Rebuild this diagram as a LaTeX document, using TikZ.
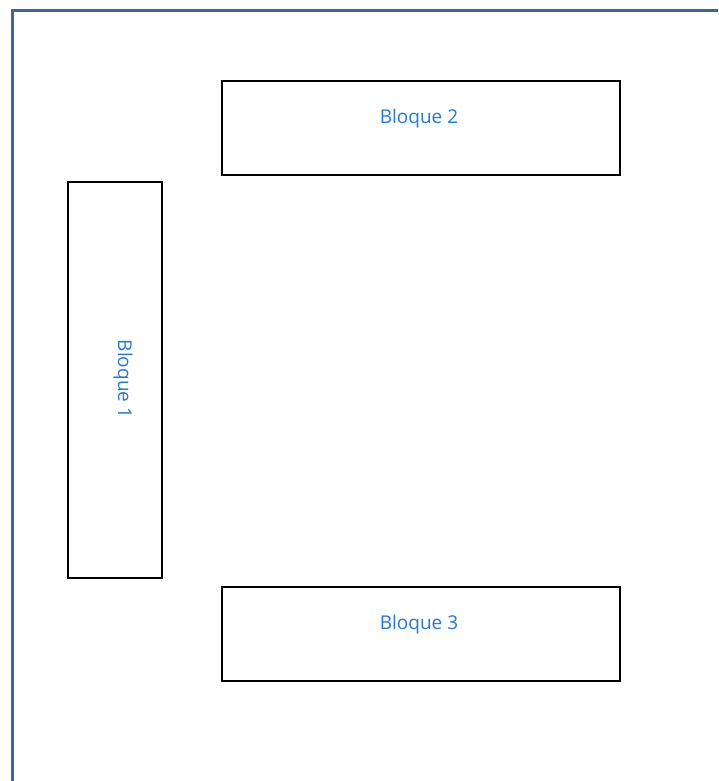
\documentclass[tikz,border=0pt]{standalone}
\usepackage{fontspec}
\setmainfont{Open Sans}
\definecolor{framecol}{RGB}{65,100,145}
\definecolor{txtcol}{RGB}{40,120,205}
\begin{document}
\begin{tikzpicture}[x=1pt,y=-1pt,
  blockbox/.style={draw=black,line width=2.5pt,rectangle,inner sep=0pt,outer sep=0pt},
  blocklabel/.style={text=txtcol,font=\fontsize{19}{22}\selectfont,inner sep=0pt,anchor=center}]
\useasboundingbox (0,0) rectangle (718,781);
\clip (0,0) rectangle (718,781);
\fill[white] (0,0) rectangle (718,781);
% outer frame
\coordinate (fbl) at (12.5,790);
\coordinate (ftl) at (12.5,11);
\coordinate (ftr) at (730,11);
\draw[framecol,line width=3pt] (fbl) -- (ftl) -- (ftr);
% blocks
\node[blockbox,minimum width=398pt,minimum height=94pt] (b2) at (421,128) {};
\node[blockbox,minimum width=94pt,minimum height=396pt] (b1) at (115,380) {};
\node[blockbox,minimum width=398pt,minimum height=94pt] (b3) at (421,634) {};
% labels
\node[blocklabel] (t2) at (419,118.5) {Bloque 2};
\node[blocklabel] (t3) at (419,624.5) {Bloque 3};
\node[blocklabel,rotate=-90] (t1) at (123,379) {Bloque 1};
\end{tikzpicture}
\end{document}
